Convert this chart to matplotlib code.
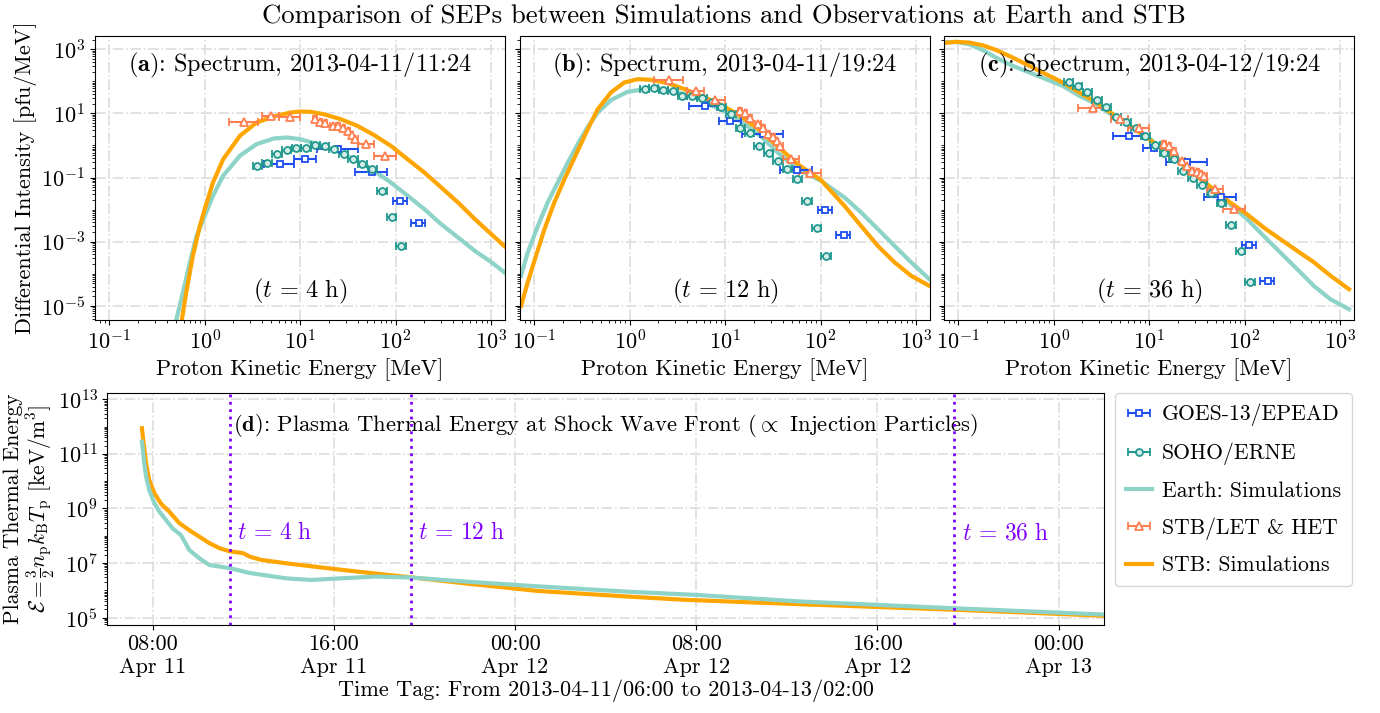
import numpy as np
import pandas as pd
import matplotlib
matplotlib.use('Agg')
import matplotlib.pyplot as plt
import matplotlib.dates as mdates
from matplotlib.ticker import LogLocator, NullFormatter

plt.rcParams['font.family'] = ['cmr10', 'DejaVu Serif']
plt.rcParams['mathtext.fontset'] = 'cm'
plt.rcParams['axes.formatter.use_mathtext'] = True
plt.rcParams['axes.unicode_minus'] = False

# ---------------- observations (energy channels, MeV) ----------------
goes_E = np.array([6.1, 11.3, 25, 56, 110, 175])
goes_lo = np.array([4.2, 8.7, 15, 38, 93, 145])
goes_hi = np.array([8.7, 14.5, 40, 82, 131, 205])

erne_E = np.array([1.43, 1.79, 2.25, 2.85, 3.57, 4.5, 5.7, 7.2, 9.1, 11.5,
                   14.4, 18.1, 22.7, 28.6, 36, 45, 57, 72, 91, 114])
erne_lo = np.array([1.28, 1.60, 2.01, 2.54, 3.19, 4.02, 5.09, 6.43, 8.13, 10.3,
                    12.9, 16.2, 20.3, 25.5, 32.1, 40.2, 50.9, 64.3, 81.3, 102])
erne_hi = np.array([1.60, 2.00, 2.52, 3.19, 4.00, 5.04, 6.38, 8.06, 10.2, 12.9,
                    16.1, 20.3, 25.4, 32.0, 40.3, 50.4, 63.8, 80.6, 102, 128])

stb_E = np.array([2.55, 4.9, 7.75, 14.3, 16.0, 18.1, 22.3, 25.1, 27.9, 31.4,
                  34.6, 37.9, 49, 77.5])
stb_lo = np.array([1.8, 4, 6, 13.6, 14.9, 17.0, 20.8, 23.8, 26.3, 29.5,
                   33.4, 35.5, 40, 60])
stb_hi = np.array([3.6, 6, 10, 15.1, 17.1, 19.3, 23.8, 26.4, 29.7, 33.4,
                   35.8, 40.5, 60, 100])

# intensities [pfu/MeV] for each snapshot
goes_a = [0.27, 0.39, 0.8, 0.144, 0.0188, 0.0038]
goes_b = [16.4, 5.8, 2.2, 0.174, 0.0099, 0.00164]
goes_c = [2.0, 0.82, 0.31, 0.024, 0.00078, 0.000058]

erne_a = [np.nan, np.nan, np.nan, np.nan, 0.23, 0.29, 0.54, 0.73, 0.86, 0.82,
          1.05, 0.97, 0.77, 0.56, 0.37, 0.26, 0.18, 0.039, 0.0057, 0.00071]
erne_b = [56.8, 59.6, 54, 49, 35, 35, 31, 22, 15.6, 9.7, 3.5, 2.36, 0.97, 0.58,
          0.33, 0.18, 0.091, 0.018, 0.0027, 0.00035]
erne_c = [98, 69, 45, 26, 15.6, 7.8, 5.4, 3.4, 2.0, 1.02, 0.60, 0.37, 0.158,
          0.10, 0.058, 0.033, 0.0158, 0.0032, 0.0005, 0.000054]

stb_a = [5.4, 8.0, 7.6, 6.6, 5.2, 5.0, 4.0, 3.9, 3.4, 2.9, 2.1, 1.57, 1.1, 0.48]
stb_b = [111, 50, 25.8, 12, 10.1, 7.4, 4.6, 3.4, 2.25, 1.77, 1.39, 0.93, 0.37, 0.137]
stb_c = [14.5, 6.6, 3.4, 1.1, 0.93, 0.68, 0.33, 0.23, 0.162, 0.144, 0.128,
         0.113, 0.044, 0.0103]

# ---------------- simulated spectra ----------------
a_earth_E = [0.50, 0.59, 0.70, 0.82, 1.0, 1.22, 1.56, 2.34, 3.5, 5.3, 7.3, 10.0,
             17.7, 26.5, 39.7, 59.6, 89.3, 134, 200, 301, 451, 676, 1012, 1457]
a_earth_I = [3.4e-6, 2.6e-5, 2.3e-4, 1.5e-3, 6.4e-3, 0.027, 0.113, 0.48, 1.1,
             1.65, 1.77, 1.57, 0.97, 0.60, 0.33, 0.162, 0.070, 0.027, 0.0104,
             3.5e-3, 1.36e-3, 5.2e-4, 2.3e-4, 9.8e-5]
a_stb_E = [0.57, 0.64, 0.75, 0.89, 1.0, 1.22, 1.56, 2.34, 3.5, 5.3, 7.9, 10.0,
           12.8, 17.7, 26.5, 39.7, 59.6, 89.3, 134, 200, 301, 451, 676, 1012, 1457]
a_stb_I = [3.1e-6, 2.6e-5, 3.6e-4, 3.1e-3, 0.0104, 0.070, 0.37, 2.0, 5.2, 8.0,
           10.6, 11.4, 11.2, 9.4, 6.6, 4.1, 2.1, 0.97, 0.37, 0.144, 0.049,
           0.0167, 5.1e-3, 1.7e-3, 6.3e-4]

b_earth_E = [0.0727, 0.0853, 0.109, 0.138, 0.176, 0.224, 0.285, 0.363, 0.462,
             0.637, 0.95, 1.43, 2.13, 3.18, 4.76, 7.1, 10.6, 15.9, 23.8, 35.6,
             57.7, 101, 178, 266, 397, 594, 888, 1383]
b_earth_I = [8.7e-5, 4.6e-4, 3.1e-3, 0.0167, 0.070, 0.29, 1.1, 3.8, 10.6, 26,
             47, 57, 54, 45, 33, 18, 10.6, 4.8, 1.9, 0.60, 0.18, 0.079, 0.024,
             8.2e-3, 2.5e-3, 7.5e-4, 2.3e-4, 6.8e-5]
b_stb_E = [0.0727, 0.0853, 0.104, 0.128, 0.162, 0.207, 0.285, 0.363, 0.462,
           0.637, 0.88, 1.21, 1.67, 2.5, 3.74, 5.6, 8.4, 13.6, 21.9, 35.6, 57.7,
           101, 178, 266, 397, 594, 888, 1383]
b_stb_I = [1.0e-5, 5.4e-5, 3.6e-4, 2.5e-3, 0.0167, 0.089, 0.68, 3.2, 13.5, 45,
           92, 116, 111, 87, 57, 35, 20.8, 9.4, 3.4, 0.93, 0.26, 0.083, 0.0131,
           3.1e-3, 7.5e-4, 2.3e-4, 8.7e-5, 4.2e-5]

c_E = [0.0679, 0.0938, 0.1295, 0.179, 0.247, 0.37, 0.555, 0.83, 1.24, 1.86, 2.79,
       4.18, 6.26, 9.4, 14.0, 21, 31.5, 47.2, 70.6, 106, 158, 237, 356, 532, 797,
       1244]
c_earth_I = [1610, 1690, 1430, 953, 550, 303, 188, 116, 72, 35, 19.4, 8.4, 4.1,
             2.0, 0.73, 0.29, 0.113, 0.0386, 0.0148, 5.1e-3, 1.53e-3, 4.6e-4,
             1.4e-4, 4.2e-5, 1.6e-5, 7.9e-6]
c_stb_I = [1540, 1690, 1610, 1330, 953, 550, 303, 166, 92, 45, 21.8, 9.4, 4.1,
           1.77, 0.77, 0.29, 0.113, 0.0435, 0.0167, 7.2e-3, 2.8e-3, 1.2e-3,
           5.2e-4, 2.3e-4, 8.7e-5, 3.3e-5]

# ---------------- plasma thermal energy at shock (hours after 07:24) ----------------
t_start = pd.Timestamp('2013-04-11 07:24')
stb_t = [0.13, 0.2, 0.31, 0.45, 0.68, 0.97, 1.34, 1.78, 2.22, 2.66, 3.1, 3.55, 4.0,
         4.6, 4.9, 5.4, 6.5, 8.1, 9.7, 12.0, 14.4, 17.6, 21.6, 24.1, 29.2, 36.0, 42.6]
stb_eps = [8.7e11, 2.5e11, 4.6e10, 1.1e10, 3.6e9, 1.5e9, 7.6e8, 2.9e8, 1.6e8,
           9.3e7, 5.4e7, 3.5e7, 2.7e7, 2.3e7, 1.7e7, 1.3e7, 9.8e6, 6.8e6, 4.8e6,
           3.0e6, 1.8e6, 9.5e5, 5.9e5, 4.5e5, 3.1e5, 1.95e5, 1.17e5]
earth_t = [0.13, 0.23, 0.31, 0.45, 0.68, 0.9, 1.19, 1.48, 1.85, 2.22, 2.66, 3.1,
           4.0, 4.9, 6.5, 7.6, 8.9, 10.45, 12.0, 14.4, 17.6, 21.6, 24.6, 29.2,
           36.0, 42.6]
earth_eps = [2.8e11, 4.6e10, 1.5e10, 4.8e9, 1.55e9, 7.6e8, 3.8e8, 1.86e8, 1.07e8,
             3.0e7, 1.5e7, 8.5e6, 6.5e6, 4.3e6, 2.75e6, 2.4e6, 2.75e6, 3.2e6,
             2.95e6, 2.1e6, 1.4e6, 8.9e5, 6.8e5, 3.9e5, 2.2e5, 1.3e5]
snap_hours = [4, 12, 36]

spec_yticks = [1e-5, 1e-3, 1e-1, 1e1, 1e3]
eps_yticks = [1e5, 1e7, 1e9, 1e11, 1e13]

panels = [
    ('a', '2013-04-11/11:24', 4, goes_a, erne_a, stb_a,
     a_earth_E, a_earth_I, a_stb_E, a_stb_I),
    ('b', '2013-04-11/19:24', 12, goes_b, erne_b, stb_b,
     b_earth_E, b_earth_I, b_stb_E, b_stb_I),
    ('c', '2013-04-12/19:24', 36, goes_c, erne_c, stb_c,
     c_E, c_earth_I, c_E, c_stb_I),
]

c_goes = '#1f4ef0'
c_erne = '#22998f'
c_earth = '#8dd3c7'
c_stbobs = '#ff7f50'
c_stbsim = '#ffa500'
c_vline = '#8000ff'
grid_kw = dict(ls='-.', color='#dddddd', lw=1.2)
fs = 16


def minor_log(ax):
    ax.yaxis.set_minor_locator(LogLocator(base=10, subs=np.arange(1, 10), numticks=100))
    ax.yaxis.set_minor_formatter(NullFormatter())


fig = plt.figure(figsize=(13.8, 7.13), dpi=100)
W, H = 1380, 713

lefts = [95, 520, 944]
handles = None
for k, (tag, stamp, th, g, e, s, eE, eI, sE, sI) in enumerate(panels):
    ax = fig.add_axes([lefts[k] / W, 1 - 320 / H, 410 / W, 284.3 / H])
    ax.set_xscale('log')
    ax.set_yscale('log')
    ax.grid(True, which='major', **grid_kw)
    ax.set_axisbelow(True)
    l_earth, = ax.plot(eE, eI, color=c_earth, lw=3, zorder=2)
    l_stb, = ax.plot(sE, sI, color=c_stbsim, lw=3, zorder=2)
    h_goes = ax.errorbar(goes_E, g, xerr=[goes_E - goes_lo, goes_hi - goes_E],
                         fmt='s', color=c_goes, mfc='white', ms=5, mew=1.3,
                         capsize=3, elinewidth=1.5, capthick=1.5, zorder=4)
    h_erne = ax.errorbar(erne_E, e, xerr=[erne_E - erne_lo, erne_hi - erne_E],
                         fmt='o', color=c_erne, mfc='#d6ece8', ms=5, mew=1.3,
                         capsize=3, elinewidth=1.5, capthick=1.5, zorder=4)
    h_stb = ax.errorbar(stb_E, s, xerr=[stb_E - stb_lo, stb_hi - stb_E],
                        fmt='^', color=c_stbobs, mfc='white', ms=6, mew=1.3,
                        capsize=3, elinewidth=1.5, capthick=1.5, zorder=4)
    ax.set_xlim(0.0708, 1403)
    ax.set_ylim(10 ** -5.44, 10 ** 3.42)
    ax.set_yticks(spec_yticks)
    minor_log(ax)
    ax.tick_params(labelsize=fs)
    ax.set_xlabel('Proton Kinetic Energy [MeV]', fontsize=fs, labelpad=3)
    if k == 0:
        ax.set_ylabel('Differential Intensity [pfu/MeV]', fontsize=fs, labelpad=3)
    else:
        ax.tick_params(labelleft=False)
    ax.text(0.5, 0.895, r'($\mathbf{%s}$): Spectrum, %s' % (tag, stamp),
            transform=ax.transAxes, ha='center', va='center', fontsize=fs + 1.5)
    ax.text(0.5, 0.1, r'$(t\,=\,%d\ \mathrm{h})$' % th,
            transform=ax.transAxes, ha='center', va='center', fontsize=fs + 1.5)
    if k == 0:
        handles = [h_goes, h_erne, l_earth, h_stb, l_stb]

# bottom panel
axd = fig.add_axes([107.3 / W, 1 - 625 / H, 996.7 / W, 231.7 / H])
axd.set_yscale('log')
axd.grid(True, which='major', **grid_kw)
axd.set_axisbelow(True)
earth_time = t_start + pd.to_timedelta(earth_t, unit='h')
stb_time = t_start + pd.to_timedelta(stb_t, unit='h')
axd.plot(earth_time, earth_eps, color=c_earth, lw=3, zorder=3)
axd.plot(stb_time, stb_eps, color=c_stbsim, lw=3, zorder=2)
for h in snap_hours:
    tv = t_start + pd.Timedelta(hours=h)
    axd.axvline(tv, color=c_vline, ls=':', lw=2, zorder=4)
    axd.text(tv + pd.Timedelta(minutes=20), 10 ** 8.1, r'$t\,=\,%d\ \mathrm{h}$' % h,
             color=c_vline, fontsize=fs + 1, va='center', ha='left')
axd.set_xlim(pd.Timestamp('2013-04-11 06:00'), pd.Timestamp('2013-04-13 02:00'))
axd.set_ylim(10 ** 4.73, 10 ** 13.22)
axd.set_yticks(eps_yticks)
minor_log(axd)
axd.xaxis.set_major_locator(mdates.HourLocator(byhour=[0, 8, 16]))
axd.xaxis.set_major_formatter(mdates.DateFormatter('%H:%M\n%b %d'))
axd.tick_params(labelsize=fs)
axd.set_xlabel('Time Tag: From 2013-04-11/06:00 to 2013-04-13/02:00', fontsize=fs,
               labelpad=2)
axd.set_ylabel('Plasma Thermal Energy\n'
               r'$\mathcal{E} = \frac{3}{2}n_\mathrm{p}k_\mathrm{B}T_\mathrm{p}$'
               r' [keV/m$^3$]', fontsize=15.5, linespacing=1.05)
axd.yaxis.set_label_coords((57 - 107.3) / 996.7, 0.5)
axd.text(0.5, 0.863,
         r'($\mathbf{d}$): Plasma Thermal Energy at Shock Wave Front '
         r'($\propto$ Injection Particles)',
         transform=axd.transAxes, ha='center', va='center', fontsize=16.3)

fig.legend(handles, ['GOES-13/EPEAD', 'SOHO/ERNE', 'Earth: Simulations',
                     'STB/LET & HET', 'STB: Simulations'],
           loc='upper left', bbox_to_anchor=(1115 / W, 1 - 393 / H),
           borderaxespad=0, fontsize=15.6, frameon=True, edgecolor='#cccccc',
           labelspacing=0.75, handlelength=1.2, handletextpad=0.45, borderpad=0.5)

fig.text(724 / W, 1 - 16 / H,
         'Comparison of SEPs between Simulations and Observations at Earth and STB',
         ha='center', va='center', fontsize=19.2)

fig.savefig('out.png', dpi=100)
